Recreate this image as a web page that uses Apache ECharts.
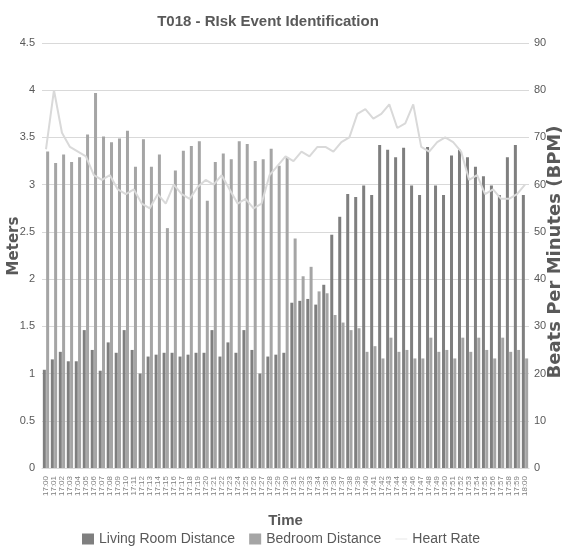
<!DOCTYPE html>
<html>
<head>
<meta charset="utf-8">
<script src="https://cdn.jsdelivr.net/npm/echarts@6/dist/echarts.min.js"></script>
<style>
  html, body { margin: 0; padding: 0; background: #fff; }
  #chart { width: 562px; height: 552px; }
</style>
</head>
<body>
<div id="chart"></div>
<script>
const times = []
for (let m = 0; m <= 60; m++) {
  times.push(m === 60 ? '18:00' : '17:' + String(m).padStart(2, '0'))
}

const livingRoom = [
  1.04, 1.15, 1.23, 1.13, 1.13, 1.46, 1.25, 1.03, 1.33, 1.22,
  1.46, 1.25, 1.00, 1.18, 1.20, 1.22, 1.22, 1.18, 1.20, 1.22,
  1.22, 1.46, 1.18, 1.33, 1.22, 1.46, 1.25, 1.00, 1.18, 1.20,
  1.22, 1.75, 1.77, 1.79, 1.73, 1.94, 2.47, 2.66, 2.90, 2.87,
  2.99, 2.89, 3.42, 3.37, 3.29, 3.39, 2.99, 2.89, 3.40, 2.99,
  2.89, 3.31, 3.37, 3.29, 3.19, 3.09, 2.99, 2.89, 3.29, 3.42,
  2.89
]

const bedroom = [
  3.35, 3.23, 3.32, 3.24, 3.29, 3.53, 3.97, 3.51, 3.45, 3.49,
  3.57, 3.19, 3.48, 3.19, 3.32, 2.54, 3.15, 3.36, 3.41, 3.46,
  2.83, 3.24, 3.33, 3.27, 3.46, 3.43, 3.25, 3.27, 3.38, 3.20,
  3.29, 2.43, 2.03, 2.13, 1.87, 1.85, 1.62, 1.54, 1.46, 1.48,
  1.23, 1.29, 1.16, 1.38, 1.23, 1.25, 1.16, 1.16, 1.38, 1.23,
  1.25, 1.16, 1.38, 1.23, 1.38, 1.25, 1.16, 1.38, 1.23, 1.25,
  1.16
]

const heartRate = [
  67.5, 80, 71, 68, 67, 66, 62, 61, 62, 59,
  58, 59, 56, 55, 58, 56, 60, 58, 57, 59.5,
  61, 60, 62, 59, 56, 57, 55, 56, 62, 64,
  66, 65, 67, 66, 68, 68, 67, 69, 70, 75,
  76, 74, 75, 77, 72, 73, 77, 68, 67, 69,
  70, 69, 67, 61, 62, 58, 59, 57, 57, 58,
  60
]

const font = "'Liberation Sans', sans-serif"
const textColor = '#595959'
// thin horizontal line icon for the heart rate legend entry
const lineIcon = 'path://M0,0 L0.2,0 L0,0.05 Z M0,4.4 L20,4.4 L20,5.6 L0,5.6 Z M20,10 L19.8,10 L20,9.95 Z'

const chart = echarts.init(document.getElementById('chart'))
chart.setOption({
  animation: false,
  textStyle: { fontFamily: font },
  title: {
    text: 'T018 - RIsk Event Identification',
    left: 263,
    textAlign: 'center',
    top: 9,
    textStyle: { fontFamily: font, fontSize: 15, fontWeight: 'bold', color: textColor }
  },
  legend: {
    bottom: 1,
    left: 'center',
    itemWidth: 12,
    itemHeight: 11,
    itemGap: 14,
    textStyle: { fontFamily: font, fontSize: 14, color: textColor },
    data: [
      { name: 'Living Room Distance', icon: 'rect' },
      { name: 'Bedroom Distance', icon: 'rect' },
      { name: 'Heart Rate', icon: lineIcon, itemStyle: { color: '#d0d0d0' } }
    ]
  },
  // vertical axis titles
  graphic: [
    {
      type: 'text',
      x: 14,
      y: 246,
      rotation: Math.PI / 2,
      style: {
        text: 'Meters',
        align: 'center',
        verticalAlign: 'middle',
        font: "bold 15px 'DejaVu Sans'",
        fill: textColor
      }
    },
    {
      type: 'text',
      x: 555,
      y: 252,
      rotation: Math.PI / 2,
      style: {
        text: 'Beats Per Minutes (BPM)',
        align: 'center',
        verticalAlign: 'middle',
        font: "bold 18px 'DejaVu Sans'",
        fill: textColor
      }
    }
  ],
  grid: { left: 42, right: 33, top: 43, bottom: 84, containLabel: false, outerBoundsMode: 'none' },
  xAxis: {
    type: 'category',
    data: times,
    name: 'Time',
    nameLocation: 'middle',
    nameGap: 45,
    nameTextStyle: { fontFamily: font, fontSize: 15, fontWeight: 'bold', color: textColor },
    axisLine: { lineStyle: { color: '#d9d9d9' } },
    axisTick: { show: false },
    axisLabel: {
      interval: 0,
      rotate: 90,
      fontSize: 8,
      margin: 8,
      color: '#7f7f7f'
    }
  },
  yAxis: [
    {
      type: 'value',
      min: 0,
      max: 4.5,
      interval: 0.5,
      axisLabel: { fontSize: 11, color: textColor, margin: 7 },
      splitLine: { lineStyle: { color: '#d9d9d9' } }
    },
    {
      type: 'value',
      min: 0,
      max: 90,
      interval: 10,
      axisLabel: { fontSize: 11, color: textColor, margin: 5 },
      splitLine: { show: false }
    }
  ],
  series: [
    {
      name: 'Living Room Distance',
      type: 'bar',
      data: livingRoom,
      barWidth: 3,
      barGap: '10%',
      itemStyle: { color: '#7f7f7f' }
    },
    {
      name: 'Bedroom Distance',
      type: 'bar',
      data: bedroom,
      barWidth: 3,
      itemStyle: { color: '#a5a5a5' }
    },
    {
      name: 'Heart Rate',
      type: 'line',
      yAxisIndex: 1,
      data: heartRate,
      symbol: 'none',
      lineStyle: { color: '#d9d9d9', width: 2 },
      itemStyle: { color: '#d9d9d9' }
    }
  ]
})
</script>
</body>
</html>
